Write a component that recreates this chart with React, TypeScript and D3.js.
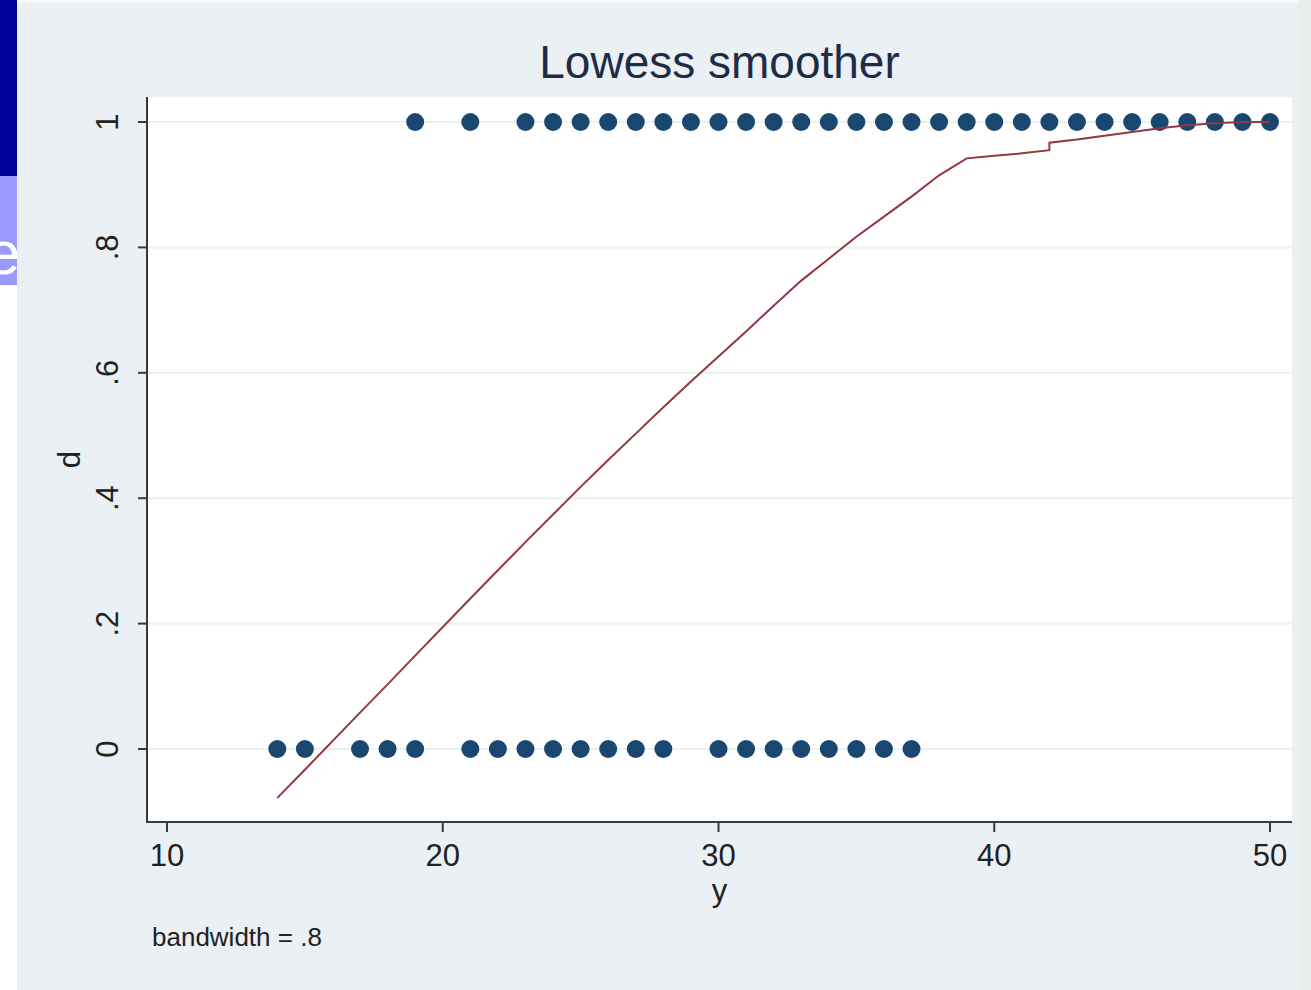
import React from 'react'
import * as d3 from 'd3'

// observations: y value where d = 0 and where d = 1
const yAtZero = [14, 15, 17, 18, 19, 21, 22, 23, 24, 25, 26, 27, 28, 30, 31, 32, 33, 34, 35, 36, 37]
const yAtOne = [19, 21, 23, 24, 25, 26, 27, 28, 29, 30, 31, 32, 33, 34, 35, 36, 37, 38, 39, 40, 41, 42, 43, 44, 45, 46, 47, 48, 49, 50]

// lowess fitted values
const fitX = [14, 15, 17, 18, 19, 21, 22, 23, 24, 25, 26, 27, 28, 29, 30, 31, 32, 33, 34, 35, 36, 37, 38, 39, 40, 41, 42, 42, 43, 44, 45, 46, 47, 48, 49, 50]
const fitD = [-0.078, -0.033, 0.058, 0.103, 0.149, 0.240, 0.285, 0.330, 0.374, 0.418, 0.461, 0.503, 0.545, 0.586, 0.626, 0.666, 0.707, 0.747, 0.782, 0.817, 0.849, 0.881, 0.915, 0.942, 0.946, 0.950, 0.955, 0.967, 0.972, 0.978, 0.984, 0.990, 0.995, 0.998, 1.0, 1.0]

const xTicks = [10, 20, 30, 40, 50]
const yTicks = [0, 0.2, 0.4, 0.6, 0.8, 1]
const yTickLabels = ['0', '.2', '.4', '.6', '.8', '1']

const font = '"Liberation Sans", Arial, sans-serif'

export default function App() {
  const width = 1311, height = 990
  const plot = {left: 147, right: 1292, top: 97, bottom: 822}

  const x = d3.scaleLinear().domain([10, 50]).range([167, 1270])
  const y = d3.scaleLinear().domain([0, 1]).range([749, 122])

  const line = d3.line<number>()
    .x((d, i) => x(fitX[i]))
    .y(d => y(d))

  const dots = [
    ...yAtZero.map(v => ({x: v, d: 0})),
    ...yAtOne.map(v => ({x: v, d: 1}))
  ]

  return (
    <svg width={width} height={height} style={{position: 'absolute', left: 0, top: 0}}>
      <defs>
        <clipPath id="strip"><rect x={0} y={0} width={17} height={height} /></clipPath>
      </defs>
      <rect x={0} y={0} width={width} height={height} fill="#f6f9fa" />
      <rect x={17} y={3} width={1281} height={height - 3} fill="#eaf0f3" />
      <rect x={1298} y={0} width={13} height={height} fill="#e6efed" />

      {/* slide edge on the left */}
      <g clipPath="url(#strip)">
        <rect x={0} y={0} width={17} height={176} fill="#000099" />
        <rect x={0} y={176} width={17} height={109} fill="#9999ff" />
        <rect x={0} y={285} width={17} height={height - 285} fill="#ffffff" />
        <text x={-14} y={274} fontFamily={font} fontSize={62} fill="#ffffff">e</text>
      </g>

      <rect x={plot.left} y={plot.top} width={plot.right - plot.left} height={plot.bottom - plot.top} fill="#ffffff" />

      {/* grid */}
      <g>
        {yTicks.map(t => (
          <line key={t} x1={plot.left} x2={plot.right} y1={y(t)} y2={y(t)} stroke="#eaf2f3" strokeWidth={2} />
        ))}
      </g>

      {/* dots */}
      <g fill="#1a476f">
        {dots.map((p, i) => (
          <circle key={i} cx={x(p.x)} cy={y(p.d)} r={9} />
        ))}
      </g>

      <path d={line(fitD) || ''} fill="none" stroke="#93383e" strokeWidth={2} />

      {/* axes */}
      <g stroke="#3a3a3a" strokeWidth={2}>
        <line x1={plot.left} x2={plot.left} y1={plot.top} y2={plot.bottom + 1} />
        <line x1={plot.left} x2={plot.right} y1={plot.bottom} y2={plot.bottom} />
        {yTicks.map(t => (
          <line key={'y' + t} x1={plot.left - 9} x2={plot.left} y1={y(t)} y2={y(t)} />
        ))}
        {xTicks.map(t => (
          <line key={'x' + t} x1={x(t)} x2={x(t)} y1={plot.bottom} y2={plot.bottom + 10} />
        ))}
      </g>

      <g fontFamily={font} fill="#222222">
        {xTicks.map(t => (
          <text key={t} x={x(t)} y={866} fontSize={31} textAnchor="middle">{t}</text>
        ))}
        {yTicks.map((t, i) => (
          <text key={t} transform={`translate(118,${y(t)}) rotate(-90)`} fontSize={31} textAnchor="middle">{yTickLabels[i]}</text>
        ))}
        <text x={(plot.left + plot.right) / 2} y={901} fontSize={31} textAnchor="middle">y</text>
        <text transform={`translate(80,${(plot.top + plot.bottom) / 2}) rotate(-90)`} fontSize={31} textAnchor="middle">d</text>
        <text x={152} y={946} fontSize={26}>bandwidth = .8</text>
      </g>

      <text x={(plot.left + plot.right) / 2} y={78} fontFamily={font} fontSize={46} textAnchor="middle" fill="#1e2c48">Lowess smoother</text>
    </svg>
  )
}
